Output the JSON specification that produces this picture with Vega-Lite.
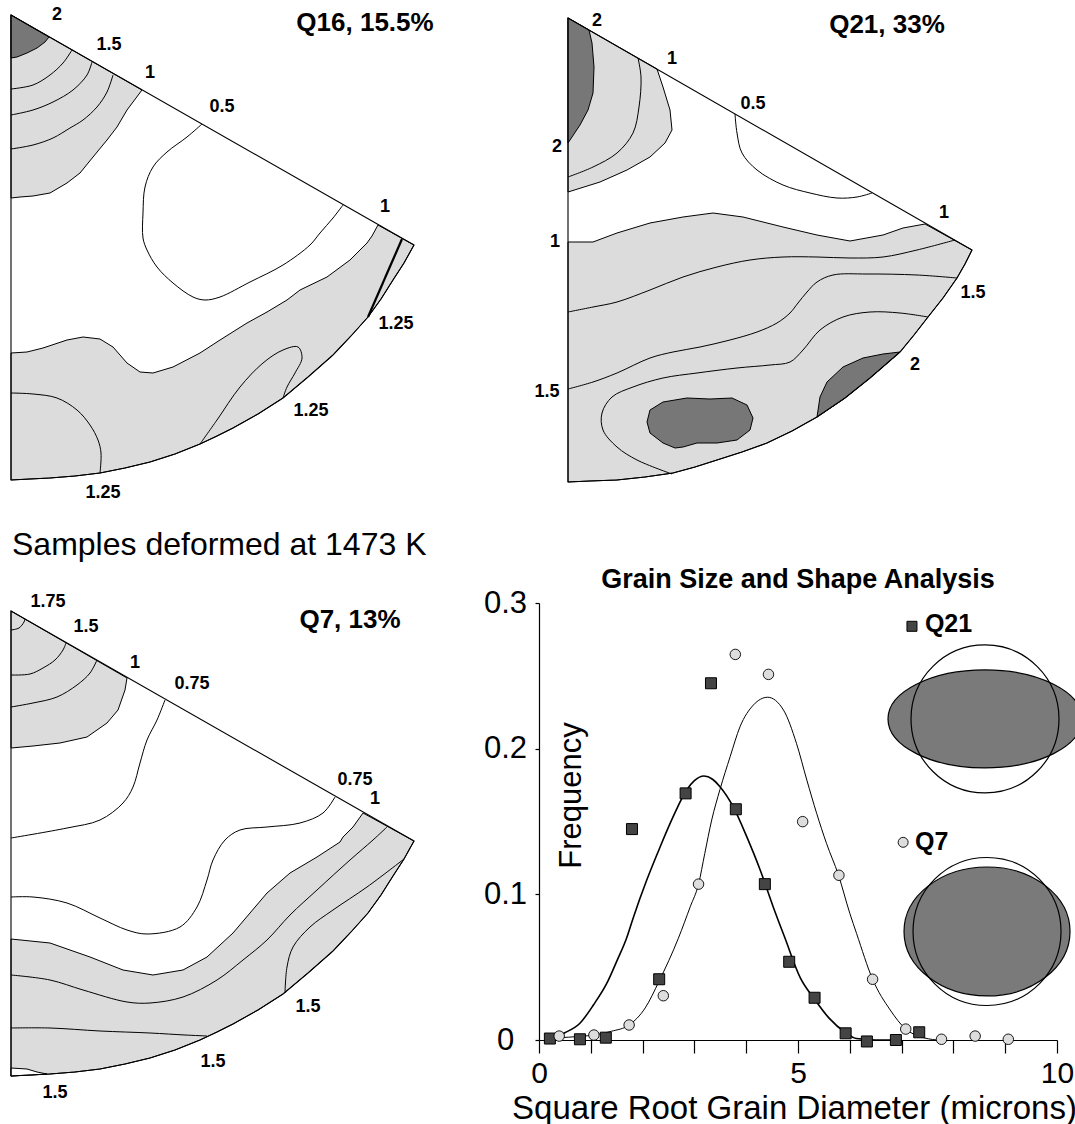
{
"$schema":"https://vega.github.io/schema/vega-lite/v6.json",
"padding":0,
"background":"white",
"columns":2,
"spacing":0,
"bounds":"flush",
"align":"each",
"config":{"view":{"stroke":null},"font":"Liberation Sans"},
"datasets":{
"q16l":[
{"g":"A","x":11,"y":15},{"g":"A","x":142,"y":90},{"g":"A","x":127,"y":110},{"g":"A","x":117,"y":127},{"g":"A","x":107,"y":140},{"g":"A","x":93,"y":157},{"g":"A","x":80,"y":173},{"g":"A","x":67,"y":183},{"g":"A","x":50,"y":193},{"g":"A","x":33,"y":196},{"g":"A","x":20,"y":197},{"g":"A","x":11,"y":198},
{"g":"C","x":11,"y":353},{"g":"C","x":27,"y":352},{"g":"C","x":43,"y":348},{"g":"C","x":67,"y":340},{"g":"C","x":83,"y":337},{"g":"C","x":100,"y":339},{"g":"C","x":113,"y":347},{"g":"C","x":127,"y":363},{"g":"C","x":140,"y":372},{"g":"C","x":153,"y":373},{"g":"C","x":173,"y":367},{"g":"C","x":200,"y":353},{"g":"C","x":220,"y":340},{"g":"C","x":247,"y":323},{"g":"C","x":267,"y":312},{"g":"C","x":287,"y":300},{"g":"C","x":300,"y":290},{"g":"C","x":327,"y":277},{"g":"C","x":350,"y":260},{"g":"C","x":367,"y":243},{"g":"C","x":372,"y":236},{"g":"C","x":378,"y":225},{"g":"C","x":414,"y":245},{"g":"C","x":404,"y":263},{"g":"C","x":393,"y":280},{"g":"C","x":381,"y":299},{"g":"C","x":368,"y":317},{"g":"C","x":351,"y":336},{"g":"C","x":333,"y":355},{"g":"C","x":308,"y":377},{"g":"C","x":283,"y":398},{"g":"C","x":258,"y":414},{"g":"C","x":233,"y":428},{"g":"C","x":217,"y":436},{"g":"C","x":200,"y":444},{"g":"C","x":175,"y":454},{"g":"C","x":150,"y":462},{"g":"C","x":125,"y":468},{"g":"C","x":100,"y":473},{"g":"C","x":75,"y":476},{"g":"C","x":50,"y":478},{"g":"C","x":30,"y":479},{"g":"C","x":11,"y":480}
],
"q16d":[
{"g":"D","x":11,"y":15},{"g":"D","x":49,"y":37},{"g":"D","x":45,"y":42},{"g":"D","x":37,"y":48},{"g":"D","x":27,"y":53},{"g":"D","x":17,"y":57},{"g":"D","x":11,"y":58}
],
"q16n":[
{"g":"a","x":11,"y":89},{"g":"a","x":33,"y":85},{"g":"a","x":50,"y":75},{"g":"a","x":63,"y":63},{"g":"a","x":72,"y":50},
{"g":"b","x":11,"y":115},{"g":"b","x":33,"y":110},{"g":"b","x":53,"y":102},{"g":"b","x":73,"y":90},{"g":"b","x":87,"y":75},{"g":"b","x":92,"y":62},
{"g":"c","x":11,"y":149},{"g":"c","x":33,"y":145},{"g":"c","x":53,"y":138},{"g":"c","x":70,"y":128},{"g":"c","x":83,"y":120},{"g":"c","x":97,"y":107},{"g":"c","x":107,"y":92},{"g":"c","x":113,"y":75},
{"g":"h","x":202,"y":124},{"g":"h","x":187,"y":137},{"g":"h","x":167,"y":152},{"g":"h","x":153,"y":167},{"g":"h","x":145,"y":187},{"g":"h","x":143,"y":213},{"g":"h","x":143,"y":238},{"g":"h","x":147,"y":250},{"g":"h","x":157,"y":267},{"g":"h","x":173,"y":283},{"g":"h","x":193,"y":297},{"g":"h","x":205,"y":300},{"g":"h","x":220,"y":297},{"g":"h","x":250,"y":282},{"g":"h","x":283,"y":265},{"g":"h","x":310,"y":245},{"g":"h","x":320,"y":233},{"g":"h","x":333,"y":218},{"g":"h","x":343,"y":205},
{"g":"l","x":11,"y":393},{"g":"l","x":33,"y":394},{"g":"l","x":57,"y":398},{"g":"l","x":77,"y":410},{"g":"l","x":90,"y":425},{"g":"l","x":98,"y":440},{"g":"l","x":101,"y":453},{"g":"l","x":100,"y":473},
{"g":"m","x":200,"y":444},{"g":"m","x":217,"y":420},{"g":"m","x":240,"y":387},{"g":"m","x":263,"y":363},{"g":"m","x":283,"y":350},{"g":"m","x":298,"y":347},{"g":"m","x":302,"y":358},{"g":"m","x":295,"y":373},{"g":"m","x":287,"y":387},{"g":"m","x":283,"y":398}
],
"q16k":[{"g":"k","x":402,"y":239},{"g":"k","x":368,"y":317}],
"q16o":[
{"x":11,"y":15},{"x":414,"y":245},{"x":404,"y":263},{"x":393,"y":280},{"x":381,"y":299},{"x":368,"y":317},{"x":351,"y":336},{"x":333,"y":355},{"x":308,"y":377},{"x":283,"y":398},{"x":258,"y":414},{"x":233,"y":428},{"x":217,"y":436},{"x":200,"y":444},{"x":175,"y":454},{"x":150,"y":462},{"x":125,"y":468},{"x":100,"y":473},{"x":75,"y":476},{"x":50,"y":478},{"x":30,"y":479},{"x":11,"y":480}
],
"q16t":[
{"t":"2","x":57,"y":15},{"t":"1.5","x":109,"y":45},{"t":"1","x":150,"y":73},{"t":"0.5","x":222,"y":107},{"t":"1","x":385,"y":207},{"t":"1.25","x":396,"y":324},{"t":"1.25","x":311,"y":411},{"t":"1.25","x":103,"y":493}
],
"q21l":[
{"g":"A","x":568,"y":18},{"g":"A","x":657,"y":69},{"g":"A","x":663,"y":87},{"g":"A","x":670,"y":110},{"g":"A","x":672,"y":130},{"g":"A","x":665,"y":143},{"g":"A","x":650,"y":157},{"g":"A","x":627,"y":170},{"g":"A","x":600,"y":182},{"g":"A","x":568,"y":192},
{"g":"C","x":568,"y":242},{"g":"C","x":593,"y":242},{"g":"C","x":617,"y":233},{"g":"C","x":650,"y":223},{"g":"C","x":683,"y":217},{"g":"C","x":713,"y":213},{"g":"C","x":743,"y":217},{"g":"C","x":783,"y":227},{"g":"C","x":817,"y":235},{"g":"C","x":850,"y":241},{"g":"C","x":883,"y":235},{"g":"C","x":903,"y":228},{"g":"C","x":925,"y":224},{"g":"C","x":972,"y":250},{"g":"C","x":965,"y":264},{"g":"C","x":957,"y":278},{"g":"C","x":943,"y":298},{"g":"C","x":928,"y":317},{"g":"C","x":914,"y":335},{"g":"C","x":900,"y":352},{"g":"C","x":885,"y":365},{"g":"C","x":870,"y":378},{"g":"C","x":845,"y":398},{"g":"C","x":817,"y":417},{"g":"C","x":792,"y":431},{"g":"C","x":767,"y":443},{"g":"C","x":742,"y":452},{"g":"C","x":717,"y":460},{"g":"C","x":695,"y":467},{"g":"C","x":673,"y":473},{"g":"C","x":645,"y":477},{"g":"C","x":617,"y":480},{"g":"C","x":590,"y":481},{"g":"C","x":568,"y":482}
],
"q21d":[
{"g":"D","x":568,"y":18},{"g":"D","x":589,"y":30},{"g":"D","x":592,"y":43},{"g":"D","x":594,"y":67},{"g":"D","x":593,"y":93},{"g":"D","x":588,"y":110},{"g":"D","x":580,"y":125},{"g":"D","x":568,"y":143},
{"g":"B1","x":647,"y":422},{"g":"B1","x":650,"y":410},{"g":"B1","x":663,"y":402},{"g":"B1","x":687,"y":398},{"g":"B1","x":710,"y":399},{"g":"B1","x":732,"y":398},{"g":"B1","x":747,"y":405},{"g":"B1","x":753,"y":418},{"g":"B1","x":750,"y":430},{"g":"B1","x":737,"y":440},{"g":"B1","x":717,"y":443},{"g":"B1","x":697,"y":443},{"g":"B1","x":683,"y":447},{"g":"B1","x":675,"y":448},{"g":"B1","x":663,"y":443},{"g":"B1","x":650,"y":433},
{"g":"B2","x":817,"y":417},{"g":"B2","x":820,"y":397},{"g":"B2","x":827,"y":382},{"g":"B2","x":843,"y":367},{"g":"B2","x":863,"y":358},{"g":"B2","x":883,"y":354},{"g":"B2","x":900,"y":352},{"g":"B2","x":885,"y":365},{"g":"B2","x":870,"y":378},{"g":"B2","x":845,"y":398}
],
"q21n":[
{"g":"a","x":638,"y":58},{"g":"a","x":641,"y":77},{"g":"a","x":639,"y":107},{"g":"a","x":633,"y":133},{"g":"a","x":617,"y":153},{"g":"a","x":593,"y":167},{"g":"a","x":568,"y":177},
{"g":"h","x":735,"y":114},{"g":"h","x":737,"y":133},{"g":"h","x":742,"y":153},{"g":"h","x":757,"y":170},{"g":"h","x":783,"y":185},{"g":"h","x":810,"y":193},{"g":"h","x":837,"y":198},{"g":"h","x":857,"y":197},{"g":"h","x":872,"y":193},
{"g":"L1","x":955,"y":240},{"g":"L1","x":917,"y":250},{"g":"L1","x":883,"y":257},{"g":"L1","x":850,"y":258},{"g":"L1","x":817,"y":257},{"g":"L1","x":783,"y":257},{"g":"L1","x":750,"y":260},{"g":"L1","x":717,"y":267},{"g":"L1","x":683,"y":277},{"g":"L1","x":650,"y":290},{"g":"L1","x":617,"y":302},{"g":"L1","x":593,"y":307},{"g":"L1","x":568,"y":312},
{"g":"L2","x":957,"y":278},{"g":"L2","x":917,"y":275},{"g":"L2","x":867,"y":274},{"g":"L2","x":833,"y":275},{"g":"L2","x":817,"y":282},{"g":"L2","x":807,"y":292},{"g":"L2","x":798,"y":303},{"g":"L2","x":790,"y":313},{"g":"L2","x":777,"y":323},{"g":"L2","x":757,"y":332},{"g":"L2","x":730,"y":340},{"g":"L2","x":700,"y":347},{"g":"L2","x":673,"y":352},{"g":"L2","x":650,"y":358},{"g":"L2","x":617,"y":373},{"g":"L2","x":593,"y":382},{"g":"L2","x":568,"y":389},
{"g":"L3","x":928,"y":317},{"g":"L3","x":900,"y":313},{"g":"L3","x":870,"y":312},{"g":"L3","x":843,"y":317},{"g":"L3","x":820,"y":330},{"g":"L3","x":803,"y":350},{"g":"L3","x":790,"y":362},{"g":"L3","x":770,"y":365},{"g":"L3","x":737,"y":368},{"g":"L3","x":697,"y":373},{"g":"L3","x":663,"y":378},{"g":"L3","x":633,"y":387},{"g":"L3","x":612,"y":397},{"g":"L3","x":602,"y":413},{"g":"L3","x":603,"y":430},{"g":"L3","x":617,"y":447},{"g":"L3","x":637,"y":460},{"g":"L3","x":672,"y":474}
],
"q21o":[
{"x":568,"y":18},{"x":972,"y":250},{"x":965,"y":264},{"x":957,"y":278},{"x":943,"y":298},{"x":928,"y":317},{"x":914,"y":335},{"x":900,"y":352},{"x":885,"y":365},{"x":870,"y":378},{"x":845,"y":398},{"x":817,"y":417},{"x":792,"y":431},{"x":767,"y":443},{"x":742,"y":452},{"x":717,"y":460},{"x":695,"y":467},{"x":673,"y":473},{"x":645,"y":477},{"x":617,"y":480},{"x":590,"y":481},{"x":568,"y":482}
],
"q21t":[
{"t":"2","x":597,"y":21},{"t":"1","x":672,"y":59},{"t":"0.5","x":753,"y":104},{"t":"2","x":557,"y":147},{"t":"1","x":944,"y":213},{"t":"1","x":555,"y":242},{"t":"1.5","x":973,"y":293},{"t":"2","x":915,"y":365},{"t":"1.5","x":547,"y":392}
],
"q7l":[
{"g":"A","x":11,"y":611},{"g":"A","x":127,"y":678},{"g":"A","x":125,"y":690},{"g":"A","x":118,"y":710},{"g":"A","x":107,"y":723},{"g":"A","x":87,"y":737},{"g":"A","x":60,"y":743},{"g":"A","x":33,"y":746},{"g":"A","x":11,"y":748},
{"g":"C","x":11,"y":939},{"g":"C","x":50,"y":943},{"g":"C","x":90,"y":957},{"g":"C","x":123,"y":970},{"g":"C","x":153,"y":975},{"g":"C","x":183,"y":970},{"g":"C","x":207,"y":957},{"g":"C","x":233,"y":933},{"g":"C","x":250,"y":913},{"g":"C","x":267,"y":893},{"g":"C","x":290,"y":873},{"g":"C","x":317,"y":857},{"g":"C","x":340,"y":842},{"g":"C","x":343,"y":837},{"g":"C","x":353,"y":827},{"g":"C","x":363,"y":813},{"g":"C","x":414,"y":841},{"g":"C","x":404,"y":859},{"g":"C","x":393,"y":876},{"g":"C","x":381,"y":895},{"g":"C","x":368,"y":913},{"g":"C","x":351,"y":932},{"g":"C","x":333,"y":951},{"g":"C","x":308,"y":973},{"g":"C","x":283,"y":994},{"g":"C","x":258,"y":1010},{"g":"C","x":233,"y":1024},{"g":"C","x":217,"y":1032},{"g":"C","x":200,"y":1040},{"g":"C","x":175,"y":1050},{"g":"C","x":150,"y":1058},{"g":"C","x":125,"y":1064},{"g":"C","x":100,"y":1069},{"g":"C","x":75,"y":1072},{"g":"C","x":50,"y":1074},{"g":"C","x":30,"y":1075},{"g":"C","x":11,"y":1076}
],
"q7w":[
{"g":"W","x":11,"y":1068},{"g":"W","x":27,"y":1069},{"g":"W","x":37,"y":1072},{"g":"W","x":47,"y":1074},{"g":"W","x":30,"y":1075},{"g":"W","x":11,"y":1076}
],
"q7n":[
{"g":"t1","x":11,"y":630},{"g":"t1","x":19,"y":628},{"g":"t1","x":24,"y":622},{"g":"t1","x":25,"y":619},
{"g":"t2","x":11,"y":675},{"g":"t2","x":30,"y":674},{"g":"t2","x":43,"y":668},{"g":"t2","x":55,"y":660},{"g":"t2","x":63,"y":650},{"g":"t2","x":66,"y":643},
{"g":"t3","x":11,"y":707},{"g":"t3","x":33,"y":703},{"g":"t3","x":57,"y":697},{"g":"t3","x":77,"y":685},{"g":"t3","x":90,"y":673},{"g":"t3","x":97,"y":660},
{"g":"v1","x":165,"y":700},{"g":"v1","x":157,"y":720},{"g":"v1","x":147,"y":740},{"g":"v1","x":140,"y":763},{"g":"v1","x":133,"y":787},{"g":"v1","x":123,"y":803},{"g":"v1","x":100,"y":820},{"g":"v1","x":67,"y":828},{"g":"v1","x":11,"y":838},
{"g":"v2","x":335,"y":797},{"g":"v2","x":323,"y":813},{"g":"v2","x":300,"y":823},{"g":"v2","x":267,"y":827},{"g":"v2","x":240,"y":830},{"g":"v2","x":225,"y":840},{"g":"v2","x":213,"y":860},{"g":"v2","x":207,"y":880},{"g":"v2","x":197,"y":907},{"g":"v2","x":180,"y":927},{"g":"v2","x":147,"y":934},{"g":"v2","x":127,"y":930},{"g":"v2","x":100,"y":918},{"g":"v2","x":67,"y":903},{"g":"v2","x":33,"y":897},{"g":"v2","x":11,"y":897},
{"g":"u1","x":387,"y":827},{"g":"u1","x":373,"y":840},{"g":"u1","x":350,"y":860},{"g":"u1","x":317,"y":890},{"g":"u1","x":290,"y":915},{"g":"u1","x":267,"y":940},{"g":"u1","x":243,"y":960},{"g":"u1","x":217,"y":980},{"g":"u1","x":183,"y":997},{"g":"u1","x":150,"y":1003},{"g":"u1","x":127,"y":1002},{"g":"u1","x":83,"y":990},{"g":"u1","x":50,"y":980},{"g":"u1","x":11,"y":975},
{"g":"u2","x":404,"y":859},{"g":"u2","x":367,"y":887},{"g":"u2","x":333,"y":910},{"g":"u2","x":310,"y":927},{"g":"u2","x":293,"y":947},{"g":"u2","x":287,"y":967},{"g":"u2","x":285,"y":993},
{"g":"u3","x":11,"y":1028},{"g":"u3","x":50,"y":1028},{"g":"u3","x":100,"y":1031},{"g":"u3","x":150,"y":1033},{"g":"u3","x":185,"y":1035},{"g":"u3","x":207,"y":1036}
],
"q7o":[
{"x":11,"y":611},{"x":414,"y":841},{"x":404,"y":859},{"x":393,"y":876},{"x":381,"y":895},{"x":368,"y":913},{"x":351,"y":932},{"x":333,"y":951},{"x":308,"y":973},{"x":283,"y":994},{"x":258,"y":1010},{"x":233,"y":1024},{"x":217,"y":1032},{"x":200,"y":1040},{"x":175,"y":1050},{"x":150,"y":1058},{"x":125,"y":1064},{"x":100,"y":1069},{"x":75,"y":1072},{"x":50,"y":1074},{"x":30,"y":1075},{"x":11,"y":1076}
],
"q7t":[
{"t":"1.75","x":48,"y":602},{"t":"1.5","x":86,"y":627},{"t":"1","x":135,"y":663},{"t":"0.75","x":192,"y":684},{"t":"0.75","x":355,"y":780},{"t":"1","x":375,"y":799},{"t":"1.5","x":308,"y":1007},{"t":"1.5","x":213,"y":1062},{"t":"1.5","x":55,"y":1093}
],
"heads":[
{"p":"Q16","t":"Q16, 15.5%","x":365,"y":23},{"p":"Q21","t":"Q21, 33%","x":887,"y":25},{"p":"Q7","t":"Q7, 13%","x":350,"y":620}
],
"pts":[
{"s":"Q21","x":0.21,"y":0.001},{"s":"Q21","x":0.79,"y":0.0005},{"s":"Q21","x":1.29,"y":0.0016},{"s":"Q21","x":1.795,"y":0.1448},{"s":"Q21","x":2.32,"y":0.0417},{"s":"Q21","x":2.83,"y":0.1693},{"s":"Q21","x":3.32,"y":0.2449},{"s":"Q21","x":3.8,"y":0.1584},{"s":"Q21","x":4.36,"y":0.107},{"s":"Q21","x":4.83,"y":0.0537},{"s":"Q21","x":5.32,"y":0.029},{"s":"Q21","x":5.92,"y":0.0046},{"s":"Q21","x":6.33,"y":-0.001},{"s":"Q21","x":6.89,"y":0.0},{"s":"Q21","x":7.34,"y":0.0053},
{"s":"Q7","x":0.39,"y":0.0027},{"s":"Q7","x":1.06,"y":0.0034},{"s":"Q7","x":1.74,"y":0.0103},{"s":"Q7","x":2.4,"y":0.0304},{"s":"Q7","x":3.08,"y":0.107},{"s":"Q7","x":3.79,"y":0.2647},{"s":"Q7","x":4.43,"y":0.251},{"s":"Q7","x":5.09,"y":0.1499},{"s":"Q7","x":5.79,"y":0.1131},{"s":"Q7","x":6.44,"y":0.0417},{"s":"Q7","x":7.08,"y":0.0075},{"s":"Q7","x":7.77,"y":0.0005},{"s":"Q7","x":8.42,"y":0.0027},{"s":"Q7","x":9.06,"y":0.0005}
],
"curves":[
{"s":"Q21","x":0.21,"y":0.001},{"s":"Q21","x":0.5,"y":0.005},{"s":"Q21","x":0.79,"y":0.0115},{"s":"Q21","x":1.05,"y":0.024},{"s":"Q21","x":1.31,"y":0.039},{"s":"Q21","x":1.5,"y":0.054},{"s":"Q21","x":1.69,"y":0.0698},{"s":"Q21","x":1.82,"y":0.084},{"s":"Q21","x":2.08,"y":0.1098},{"s":"Q21","x":2.34,"y":0.1327},{"s":"Q21","x":2.59,"y":0.1533},{"s":"Q21","x":2.85,"y":0.1716},{"s":"Q21","x":3.0,"y":0.178},{"s":"Q21","x":3.185,"y":0.1812},{"s":"Q21","x":3.35,"y":0.179},{"s":"Q21","x":3.49,"y":0.174},{"s":"Q21","x":3.75,"y":0.16},{"s":"Q21","x":4.01,"y":0.1396},{"s":"Q21","x":4.27,"y":0.1167},{"s":"Q21","x":4.52,"y":0.0915},{"s":"Q21","x":4.75,"y":0.0698},{"s":"Q21","x":5.04,"y":0.043},{"s":"Q21","x":5.32,"y":0.028},{"s":"Q21","x":5.6,"y":0.015},{"s":"Q21","x":5.92,"y":0.005},{"s":"Q21","x":6.13,"y":0.001},{"s":"Q21","x":6.5,"y":0.0},{"s":"Q21","x":6.9,"y":0.0},
{"s":"Q7","x":0.35,"y":0.0015},{"s":"Q7","x":0.8,"y":0.0025},{"s":"Q7","x":1.06,"y":0.0034},{"s":"Q7","x":1.4,"y":0.006},{"s":"Q7","x":1.74,"y":0.0103},{"s":"Q7","x":2.05,"y":0.022},{"s":"Q7","x":2.32,"y":0.0405},{"s":"Q7","x":2.69,"y":0.0698},{"s":"Q7","x":2.92,"y":0.0915},{"s":"Q7","x":3.08,"y":0.107},{"s":"Q7","x":3.2,"y":0.128},{"s":"Q7","x":3.334,"y":0.151},{"s":"Q7","x":3.494,"y":0.172},{"s":"Q7","x":3.69,"y":0.1945},{"s":"Q7","x":3.88,"y":0.215},{"s":"Q7","x":4.14,"y":0.23},{"s":"Q7","x":4.415,"y":0.2353},{"s":"Q7","x":4.72,"y":0.2265},{"s":"Q7","x":4.97,"y":0.2037},{"s":"Q7","x":5.17,"y":0.1785},{"s":"Q7","x":5.36,"y":0.1556},{"s":"Q7","x":5.55,"y":0.135},{"s":"Q7","x":5.78,"y":0.1133},{"s":"Q7","x":6.0,"y":0.087},{"s":"Q7","x":6.13,"y":0.0732},{"s":"Q7","x":6.44,"y":0.0417},{"s":"Q7","x":6.78,"y":0.0206},{"s":"Q7","x":7.08,"y":0.0075},{"s":"Q7","x":7.36,"y":0.0023},{"s":"Q7","x":7.68,"y":0.0}
],
"shapes":[{"s":"Q21","x":8.61,"y":0.2204},{"s":"Q7","x":8.649,"y":0.0745}],
"leg":[{"s":"Q21","t":"Q21","x":7.2,"y":0.284,"tx":7.45,"ty":0.2854},{"s":"Q7","t":"Q7","x":7.03,"y":0.1357,"tx":7.26,"ty":0.1357}]
},
"concat":[
{
"width":539,"height":603,
"encoding":{
"x":{"field":"x","type":"quantitative","scale":{"domain":[0,539],"nice":false,"zero":false},"axis":null},
"y":{"field":"y","type":"quantitative","scale":{"domain":[0,603],"nice":false,"zero":false,"reverse":true},"axis":null}
},
"layer":[
{"data":{"name":"q16l"},"mark":{"type":"line","interpolate":"linear-closed","fill":"#dcdcdc","stroke":"black","strokeWidth":1},"encoding":{"detail":{"field":"g","type":"nominal"},"order":{"value":null}}},
{"data":{"name":"q16d"},"mark":{"type":"line","interpolate":"linear-closed","fill":"#777777","stroke":"black","strokeWidth":1},"encoding":{"detail":{"field":"g","type":"nominal"},"order":{"value":null}}},
{"data":{"name":"q16n"},"mark":{"type":"line","interpolate":"catmull-rom","stroke":"black","strokeWidth":1},"encoding":{"detail":{"field":"g","type":"nominal"},"order":{"value":null}}},
{"data":{"name":"q16k"},"mark":{"type":"line","stroke":"black","strokeWidth":2.2},"encoding":{"order":{"value":null}}},
{"data":{"name":"q16o"},"mark":{"type":"line","interpolate":"linear-closed","stroke":"black","strokeWidth":1.1},"encoding":{"order":{"value":null}}},
{"data":{"name":"q16t"},"mark":{"type":"text","font":"Liberation Sans","fontWeight":"bold","fontSize":18,"color":"black"},"encoding":{"text":{"field":"t","type":"nominal"}}},
{"data":{"name":"heads"},"transform":[{"filter":"datum.p=='Q16'"}],"mark":{"type":"text","font":"Liberation Sans","fontWeight":"bold","fontSize":26,"color":"black"},"encoding":{"text":{"field":"t","type":"nominal"}}},
{"data":{"values":[{"t":"Samples deformed at 1473 K","x":12,"y":545}]},"mark":{"type":"text","font":"Liberation Sans","fontSize":32,"align":"left","color":"black"},"encoding":{"text":{"field":"t","type":"nominal"}}}
]
},
{
"width":536,"height":603,
"encoding":{
"x":{"field":"x","type":"quantitative","scale":{"domain":[539,1075],"nice":false,"zero":false},"axis":null},
"y":{"field":"y","type":"quantitative","scale":{"domain":[0,603],"nice":false,"zero":false,"reverse":true},"axis":null}
},
"layer":[
{"data":{"name":"q21l"},"mark":{"type":"line","interpolate":"linear-closed","fill":"#dcdcdc","stroke":"black","strokeWidth":1},"encoding":{"detail":{"field":"g","type":"nominal"},"order":{"value":null}}},
{"data":{"name":"q21d"},"mark":{"type":"line","interpolate":"linear-closed","fill":"#777777","stroke":"black","strokeWidth":1},"encoding":{"detail":{"field":"g","type":"nominal"},"order":{"value":null}}},
{"data":{"name":"q21n"},"mark":{"type":"line","interpolate":"catmull-rom","stroke":"black","strokeWidth":1},"encoding":{"detail":{"field":"g","type":"nominal"},"order":{"value":null}}},
{"data":{"name":"q21o"},"mark":{"type":"line","interpolate":"linear-closed","stroke":"black","strokeWidth":1.1},"encoding":{"order":{"value":null}}},
{"data":{"name":"q21t"},"mark":{"type":"text","font":"Liberation Sans","fontWeight":"bold","fontSize":18,"color":"black"},"encoding":{"text":{"field":"t","type":"nominal"}}},
{"data":{"name":"heads"},"transform":[{"filter":"datum.p=='Q21'"}],"mark":{"type":"text","font":"Liberation Sans","fontWeight":"bold","fontSize":26,"color":"black"},"encoding":{"text":{"field":"t","type":"nominal"}}}
]
},
{
"width":539,"height":521,
"encoding":{
"x":{"field":"x","type":"quantitative","scale":{"domain":[0,539],"nice":false,"zero":false},"axis":null},
"y":{"field":"y","type":"quantitative","scale":{"domain":[603,1124],"nice":false,"zero":false,"reverse":true},"axis":null}
},
"layer":[
{"data":{"name":"q7l"},"mark":{"type":"line","interpolate":"linear-closed","fill":"#dcdcdc","stroke":"black","strokeWidth":1},"encoding":{"detail":{"field":"g","type":"nominal"},"order":{"value":null}}},
{"data":{"name":"q7w"},"mark":{"type":"line","interpolate":"linear-closed","fill":"#ffffff","stroke":"black","strokeWidth":1},"encoding":{"detail":{"field":"g","type":"nominal"},"order":{"value":null}}},
{"data":{"name":"q7n"},"mark":{"type":"line","interpolate":"catmull-rom","stroke":"black","strokeWidth":1},"encoding":{"detail":{"field":"g","type":"nominal"},"order":{"value":null}}},
{"data":{"name":"q7o"},"mark":{"type":"line","interpolate":"linear-closed","stroke":"black","strokeWidth":1.1},"encoding":{"order":{"value":null}}},
{"data":{"name":"q7t"},"mark":{"type":"text","font":"Liberation Sans","fontWeight":"bold","fontSize":18,"color":"black"},"encoding":{"text":{"field":"t","type":"nominal"}}},
{"data":{"name":"heads"},"transform":[{"filter":"datum.p=='Q7'"}],"mark":{"type":"text","font":"Liberation Sans","fontWeight":"bold","fontSize":26,"color":"black"},"encoding":{"text":{"field":"t","type":"nominal"}}}
]
},
{
"width":518,"height":437,
"title":{"text":"Grain Size and Shape Analysis","font":"Liberation Sans","fontSize":27,"fontWeight":"bold","color":"black","anchor":"middle","frame":"group","baseline":"alphabetic","offset":-28},
"encoding":{
"x":{"field":"x","type":"quantitative","scale":{"domain":[0,10],"nice":false,"zero":false},
"axis":{"values":[0,1,2,3,4,5,6,7,8,9,10],"labelExpr":"datum.value % 5 === 0 ? datum.label : ''","labelOverlap":false,"labelFlush":false,"tickSize":13,"tickColor":"black","tickWidth":1.2,"domainColor":"black","domainWidth":1.2,"labelFont":"Liberation Sans","labelFontSize":30,"labelColor":"black","labelPadding":5,"grid":false,"title":"Square Root Grain Diameter  (microns)","titleFont":"Liberation Sans","titleFontSize":33,"titleFontWeight":"normal","titleColor":"black","titleBaseline":"alphabetic","titleY":78,"titleX":255}},
"y":{"field":"y","type":"quantitative","scale":{"domain":[0,0.3],"nice":false,"zero":false},
"axis":{"values":[0,0.1,0.2,0.3],"labelExpr":"datum.value == 0 ? '0' : format(datum.value, '.1f')","labelOverlap":false,"tickSize":4,"tickColor":"black","tickWidth":1.2,"domainColor":"black","domainWidth":1.2,"labelFont":"Liberation Sans","labelFontSize":31,"labelColor":"black","labelAlign":"center","labelBaseline":"middle","labelPadding":30,"grid":false,"title":"Frequency","titleFont":"Liberation Sans","titleFontSize":31,"titleFontWeight":"normal","titleColor":"black","titleAngle":270,"titleAlign":"center","titleBaseline":"alphabetic","titleX":41,"titleY":192}}
},
"layer":[
{"data":{"name":"shapes"},"transform":[{"filter":"datum.s=='Q21'"}],"mark":{"type":"point","shape":"M-1,0C-1,-0.279,-0.552,-0.505,0,-0.505C0.552,-0.505,1,-0.279,1,0C1,0.279,0.552,0.505,0,0.505C-0.552,0.505,-1,0.279,-1,0Z","size":37636,"filled":true,"fill":"#7a7a7a","stroke":"black","strokeWidth":1.2,"opacity":1}},
{"data":{"name":"shapes"},"transform":[{"filter":"datum.s=='Q21'"}],"mark":{"type":"point","shape":"circle","size":21904,"filled":false,"stroke":"black","strokeWidth":1.2,"opacity":1}},
{"data":{"name":"shapes"},"transform":[{"filter":"datum.s=='Q7'"}],"mark":{"type":"point","shape":"M-1,0C-1,-0.429,-0.552,-0.777,0,-0.777C0.552,-0.777,1,-0.429,1,0C1,0.429,0.552,0.777,0,0.777C-0.552,0.777,-1,0.429,-1,0Z","size":27556,"filled":true,"fill":"#7a7a7a","stroke":"black","strokeWidth":1.2,"opacity":1}},
{"data":{"name":"shapes"},"transform":[{"filter":"datum.s=='Q7'"}],"mark":{"type":"point","shape":"circle","size":21904,"filled":false,"stroke":"black","strokeWidth":1.2,"opacity":1}},
{"data":{"name":"curves"},"transform":[{"filter":"datum.s=='Q21'"}],"mark":{"type":"line","interpolate":"monotone","stroke":"black","strokeWidth":1.6}},
{"data":{"name":"curves"},"transform":[{"filter":"datum.s=='Q7'"}],"mark":{"type":"line","interpolate":"monotone","stroke":"black","strokeWidth":1}},
{"data":{"name":"pts"},"transform":[{"filter":"datum.s=='Q21'"}],"mark":{"type":"point","shape":"square","size":121,"filled":true,"fill":"#444444","stroke":"black","strokeWidth":1,"opacity":1}},
{"data":{"name":"pts"},"transform":[{"filter":"datum.s=='Q7'"}],"mark":{"type":"point","shape":"circle","size":110,"filled":true,"fill":"#dddddd","stroke":"black","strokeWidth":0.9,"opacity":1}},
{"data":{"name":"leg"},"transform":[{"filter":"datum.s=='Q21'"}],"mark":{"type":"point","shape":"square","size":100,"filled":true,"fill":"#444444","stroke":"black","strokeWidth":1,"opacity":1}},
{"data":{"name":"leg"},"transform":[{"filter":"datum.s=='Q7'"}],"mark":{"type":"point","shape":"circle","size":100,"filled":true,"fill":"#dddddd","stroke":"black","strokeWidth":0.9,"opacity":1}},
{"data":{"name":"leg"},"mark":{"type":"text","font":"Liberation Sans","fontWeight":"bold","fontSize":25,"align":"left","color":"black"},"encoding":{"x":{"field":"tx","type":"quantitative"},"y":{"field":"ty","type":"quantitative"},"text":{"field":"t","type":"nominal"}}}
]
}
]
}
